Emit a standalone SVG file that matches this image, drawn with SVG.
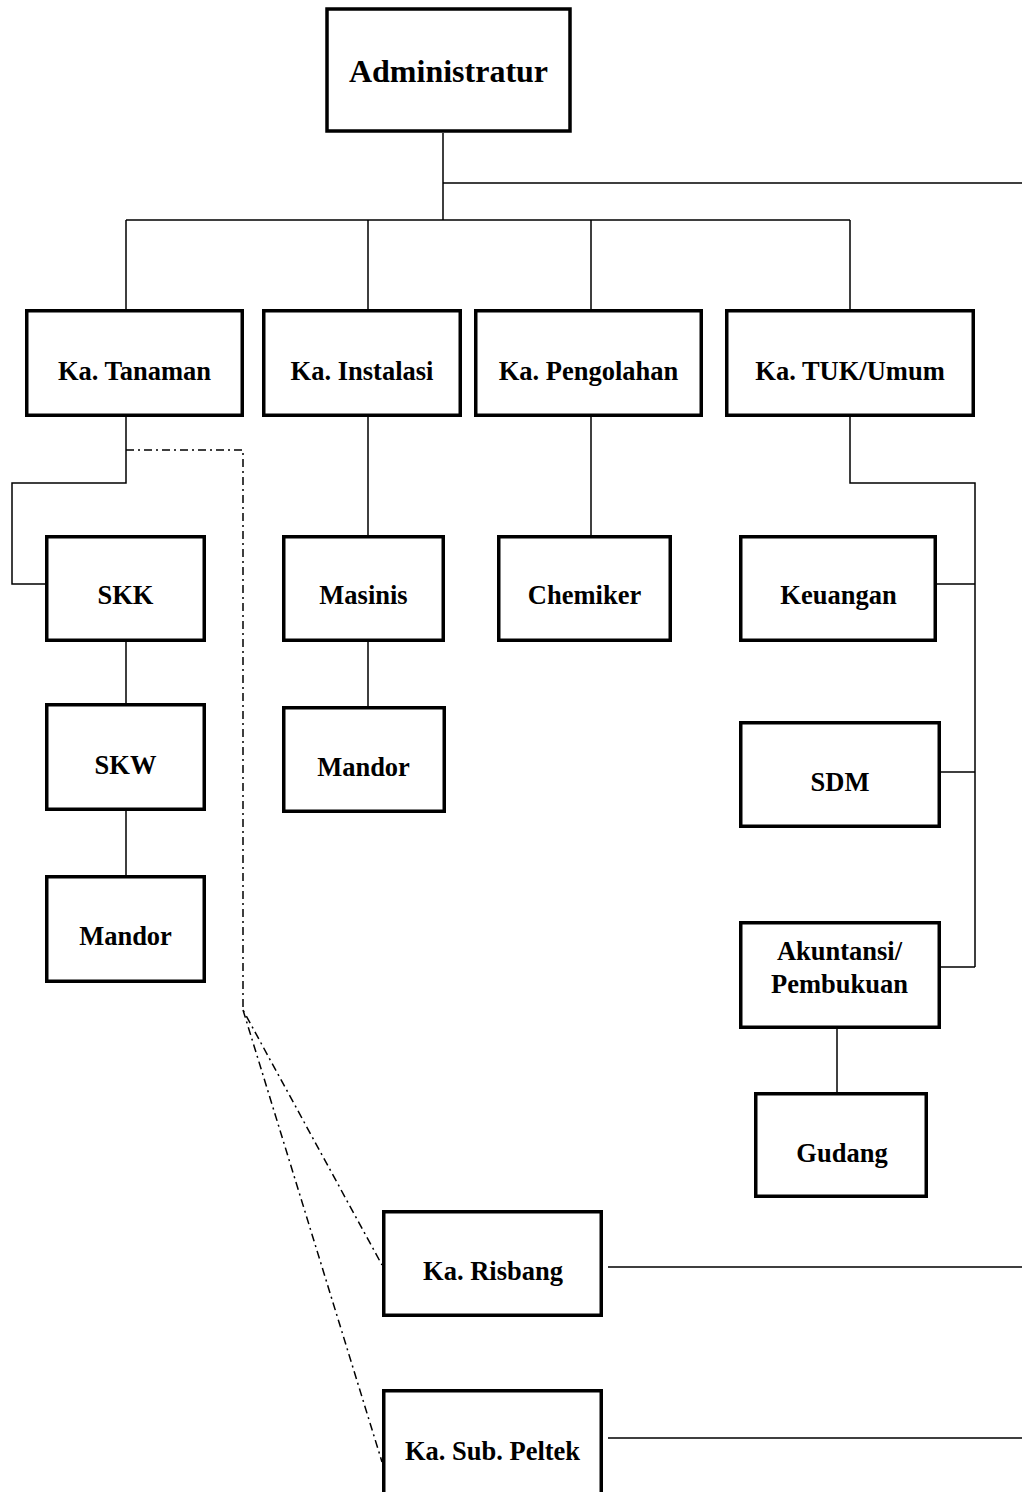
<svg xmlns="http://www.w3.org/2000/svg" width="1022" height="1492" viewBox="0 0 1022 1492">
<style>
.box{fill:#fff;stroke:#000;stroke-width:3.5}
.t{font-family:"Liberation Serif","Times New Roman",serif;font-weight:bold;font-size:26.5px;fill:#000;text-anchor:middle}
.ln{fill:none;stroke:#000;stroke-width:1.5}
.dd{fill:none;stroke:#000;stroke-width:1.5;stroke-dasharray:8 4 2 4}
</style>
<rect width="1022" height="1492" fill="#fff"/>
<g id="connectors">
<path class="ln" d="M443,133 V220 M443,183 H1022 M126,220 H850 M126,220 V309 M368,220 V309 M591,220 V309 M850,220 V309"/>
<path class="ln" d="M126,417 V483 H12 V584 H45"/>
<path class="ln" d="M126,642 V703 M126,811 V875"/>
<path class="ln" d="M368,417 V535 M368,642 V706"/>
<path class="ln" d="M591,417 V535"/>
<path class="ln" d="M850,417 V483 H975 V967 M937,584 H975 M941,772 H975 M941,967 H975"/>
<path class="ln" d="M837,1029 V1092"/>
<path class="ln" d="M608,1267 H1022 M608,1438 H1022"/>
<path class="dd" d="M126,450 H243 V1010 L382,1265 M243,1010 L382,1462"/>
</g>
<g id="administratur"><rect class="box" x="327" y="9" width="243" height="122" stroke-width="4"/><text class="t" x="448.5" y="82" style="font-size:32px">Administratur</text></g>
<g id="ka-tanaman"><rect class="box" x="26.75" y="310.75" width="215.5" height="104.5"/><text class="t" x="134.5" y="380">Ka. Tanaman</text></g>
<g id="ka-instalasi"><rect class="box" x="263.75" y="310.75" width="196.5" height="104.5"/><text class="t" x="362" y="380">Ka. Instalasi</text></g>
<g id="ka-pengolahan"><rect class="box" x="475.75" y="310.75" width="225.5" height="104.5"/><text class="t" x="588.5" y="380">Ka. Pengolahan</text></g>
<g id="ka-tuk-umum"><rect class="box" x="726.75" y="310.75" width="246.5" height="104.5"/><text class="t" x="850" y="380">Ka. TUK/Umum</text></g>
<g id="skk"><rect class="box" x="46.75" y="536.75" width="157.5" height="103.5"/><text class="t" x="125.5" y="604">SKK</text></g>
<g id="skw"><rect class="box" x="46.75" y="704.75" width="157.5" height="104.5"/><text class="t" x="125.5" y="774">SKW</text></g>
<g id="mandor-tanaman"><rect class="box" x="46.75" y="876.75" width="157.5" height="104.5"/><text class="t" x="125.5" y="945">Mandor</text></g>
<g id="masinis"><rect class="box" x="283.75" y="536.75" width="159.5" height="103.5"/><text class="t" x="363.5" y="604">Masinis</text></g>
<g id="mandor-instalasi"><rect class="box" x="283.75" y="707.75" width="160.5" height="103.5"/><text class="t" x="363.5" y="776">Mandor</text></g>
<g id="chemiker"><rect class="box" x="498.75" y="536.75" width="171.5" height="103.5"/><text class="t" x="584.5" y="604">Chemiker</text></g>
<g id="keuangan"><rect class="box" x="740.75" y="536.75" width="194.5" height="103.5"/><text class="t" x="838.5" y="604">Keuangan</text></g>
<g id="sdm"><rect class="box" x="740.75" y="722.75" width="198.5" height="103.5"/><text class="t" x="840" y="791">SDM</text></g>
<g id="akuntansi"><rect class="box" x="740.75" y="922.75" width="198.5" height="104.5"/><text class="t" x="839.5" y="960">Akuntansi/</text><text class="t" x="839.5" y="993">Pembukuan</text></g>
<g id="gudang"><rect class="box" x="755.75" y="1093.75" width="170.5" height="102.5"/><text class="t" x="842" y="1162">Gudang</text></g>
<g id="ka-risbang"><rect class="box" x="383.75" y="1211.75" width="217.5" height="103.5"/><text class="t" x="493" y="1280">Ka. Risbang</text></g>
<g id="ka-sub-peltek"><rect class="box" x="383.75" y="1390.75" width="217.5" height="120"/><text class="t" x="492.5" y="1460">Ka. Sub. Peltek</text></g>
</svg>
